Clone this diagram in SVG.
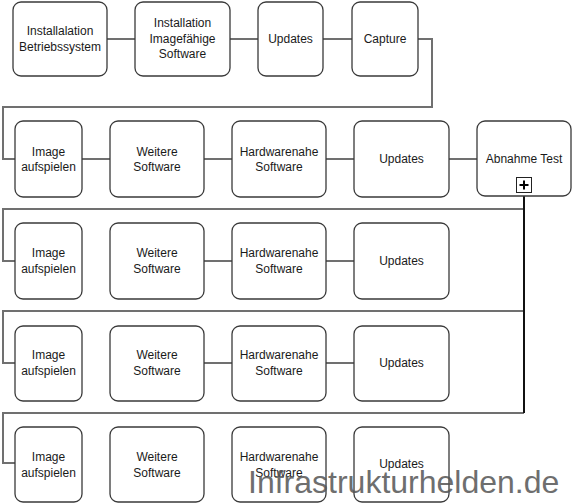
<svg xmlns="http://www.w3.org/2000/svg" width="572" height="504" viewBox="0 0 572 504">
<style>
.n rect{fill:#fff;stroke:#3a3a3a;stroke-width:1.3}
.n text{font-family:"Liberation Sans",Arial,sans-serif;font-size:12px;fill:#1a1a1a;text-anchor:middle}
.c path{fill:none;stroke:#707070;stroke-width:2}
.wm{font-family:"Liberation Sans",Arial,sans-serif;font-size:32px;fill:#555;opacity:0.85}
</style>
<rect width="572" height="504" fill="#fff"/>
<g class="c" id="connectors">
<path d="M107 39H135M230 39H258M323 39H352M418 39H432V107H3V159H15"/>
<path d="M82 159H110M204 159H232M326 159H354M449 159H477"/>
<path d="M524 209H3V261H15M204 261H232M326 261H354"/>
<path d="M524 311H3V363H15M204 363H232M326 363H354"/>
<path d="M524 413H3V463H15"/>
<path d="M524 193V413" style="stroke:#111"/>
</g>
<g class="n" id="n1"><rect x="13" y="2" width="94" height="74" rx="8"/><text x="60" y="35">Installalation</text><text x="60" y="51">Betriebssystem</text></g>
<g class="n" id="n2"><rect x="135" y="2" width="95" height="74" rx="8"/><text x="182.5" y="27">Installation</text><text x="182.5" y="43">Imagefähige</text><text x="182.5" y="58">Software</text></g>
<g class="n" id="n3"><rect x="258" y="2" width="65" height="74" rx="8"/><text x="290.5" y="43">Updates</text></g>
<g class="n" id="n4"><rect x="352" y="2" width="66" height="74" rx="8"/><text x="385" y="43">Capture</text></g>

<g class="n" id="r2a"><rect x="15" y="121" width="67" height="76" rx="8"/><text x="48.5" y="156">Image</text><text x="48.5" y="171">aufspielen</text></g>
<g class="n" id="r2b"><rect x="110" y="121" width="94" height="76" rx="8"/><text x="157" y="156">Weitere</text><text x="157" y="171">Software</text></g>
<g class="n" id="r2c"><rect x="232" y="121" width="94" height="76" rx="8"/><text x="279" y="156">Hardwarenahe</text><text x="279" y="171">Software</text></g>
<g class="n" id="r2d"><rect x="354" y="121" width="95" height="76" rx="8"/><text x="401.5" y="163">Updates</text></g>
<g class="n" id="r2e"><rect x="477" y="121" width="94" height="75" rx="8"/><text x="524" y="163">Abnahme Test</text>
<rect x="516.5" y="177.5" width="15" height="15" rx="0" style="stroke:#222;stroke-width:1"/><path d="M524 180.5V189.5M519.5 185H528.5" stroke="#000" stroke-width="2"/></g>

<g class="n" id="r3a"><rect x="15" y="223" width="67" height="76" rx="8"/><text x="48.5" y="257">Image</text><text x="48.5" y="273">aufspielen</text></g>
<g class="n" id="r3b"><rect x="110" y="223" width="94" height="76" rx="8"/><text x="157" y="257">Weitere</text><text x="157" y="273">Software</text></g>
<g class="n" id="r3c"><rect x="232" y="223" width="94" height="76" rx="8"/><text x="279" y="257">Hardwarenahe</text><text x="279" y="273">Software</text></g>
<g class="n" id="r3d"><rect x="354" y="223" width="95" height="76" rx="8"/><text x="401.5" y="265">Updates</text></g>

<g class="n" id="r4a"><rect x="15" y="326" width="67" height="75" rx="8"/><text x="48.5" y="359">Image</text><text x="48.5" y="375">aufspielen</text></g>
<g class="n" id="r4b"><rect x="110" y="326" width="94" height="75" rx="8"/><text x="157" y="359">Weitere</text><text x="157" y="375">Software</text></g>
<g class="n" id="r4c"><rect x="232" y="326" width="94" height="75" rx="8"/><text x="279" y="359">Hardwarenahe</text><text x="279" y="375">Software</text></g>
<g class="n" id="r4d"><rect x="354" y="326" width="95" height="75" rx="8"/><text x="401.5" y="367">Updates</text></g>

<g class="n" id="r5a"><rect x="15" y="427" width="67" height="75" rx="8"/><text x="48.5" y="461">Image</text><text x="48.5" y="477">aufspielen</text></g>
<g class="n" id="r5b"><rect x="110" y="427" width="94" height="75" rx="8"/><text x="157" y="461">Weitere</text><text x="157" y="477">Software</text></g>
<g class="n" id="r5c"><rect x="232" y="427" width="94" height="75" rx="8"/><text x="279" y="461">Hardwarenahe</text><text x="279" y="477">Software</text></g>
<g class="n" id="r5d"><rect x="354" y="427" width="95" height="75" rx="8"/><text x="401.5" y="468">Updates</text></g>

<text class="wm" x="248" y="493">Infrastrukturhelden.de</text>
</svg>
